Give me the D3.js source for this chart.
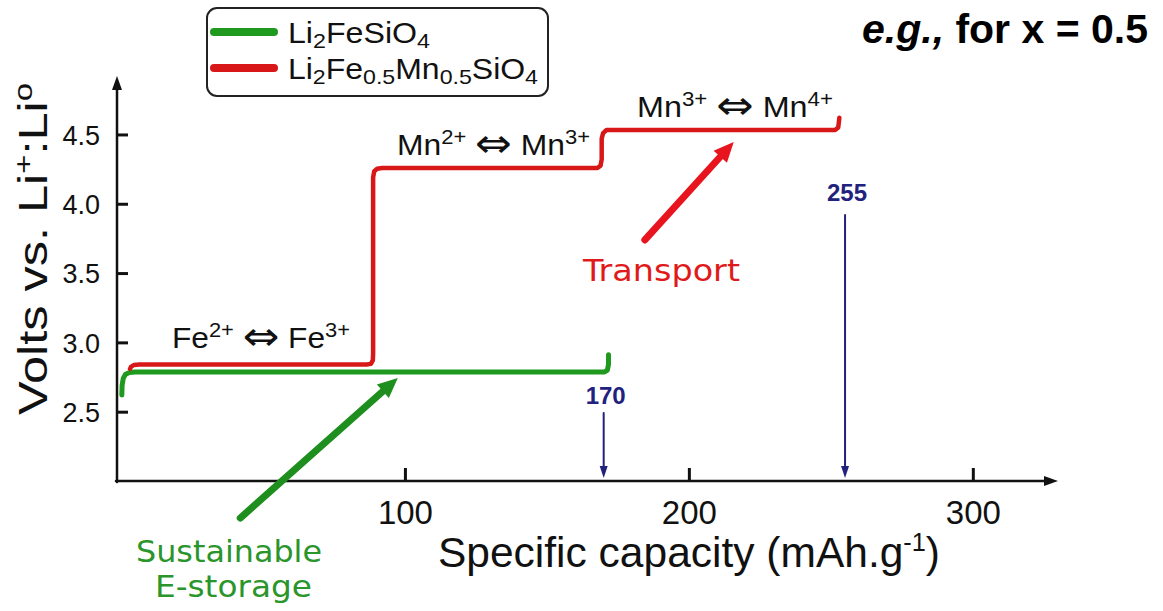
<!DOCTYPE html>
<html><head><meta charset="utf-8">
<script src="https://cdn.jsdelivr.net/npm/d3@7"></script>
<style>
html,body{margin:0;padding:0;background:#fff;}
svg{display:block;font-family:"Liberation Sans",Arial,Helvetica,sans-serif;}
</style>
</head><body>
<svg id="chart" width="1163" height="611"></svg>
<script>
// Galvanostatic profiles: capacity (mAh/g) vs potential (V vs Li+/Li)
const seriesNames = ["Li2FeSiO4", "Li2Fe0.5Mn0.5SiO4"];
const seriesColors = ["#1f9a1f", "#d81818"];

const feCapacity = [0.3, 0.4, 0.8, 1.6, 3.0, 5.0, 170.3, 171.3, 171.7, 171.7];
const feVoltage  = [2.62, 2.69, 2.74, 2.77, 2.783, 2.786, 2.786, 2.80, 2.84, 2.91];

const fmCapacity = [3.2, 3.6, 4.5, 6.5, 86.5, 88.0, 88.7, 88.8, 88.8, 89.2, 90.2, 92.0,
                    167.8, 168.9, 169.3, 169.3, 169.8, 171.0, 251.5, 252.6, 253.0];
const fmVoltage  = [2.81, 2.825, 2.836, 2.84, 2.84, 2.845, 2.87, 2.92, 4.19, 4.235, 4.252, 4.258,
                    4.258, 4.275, 4.32, 4.47, 4.51, 4.532, 4.532, 4.55, 4.62];

const xTicks = [100, 200, 300];
const yTicks = [2.5, 3.0, 3.5, 4.0, 4.5];
const capacityMarks = [170, 255];

const svg = d3.select("#chart");

const x = d3.scaleLinear().domain([-1.4, 330]).range([117, 1058]);
const y = d3.scaleLinear().domain([2.0, 4.9]).range([481, 79]);

// filled-head arrow helper
function arrow(g, x1, y1, x2, y2, color, w, hl, hw) {
  const dx = x2 - x1, dy = y2 - y1, L = Math.hypot(dx, dy);
  const ux = dx / L, uy = dy / L;
  const bx = x2 - ux * hl, by = y2 - uy * hl;
  g.append("line").attr("x1", x1).attr("y1", y1).attr("x2", bx + ux * 1).attr("y2", by + uy * 1)
    .attr("stroke", color).attr("stroke-width", w).attr("stroke-linecap", "round");
  g.append("path")
    .attr("d", `M${x2},${y2}L${bx - uy * hw / 2},${by + ux * hw / 2}L${bx + uy * hw / 2},${by - ux * hw / 2}Z`)
    .attr("fill", color);
}

// axes
const xAxis = d3.axisBottom(x).tickValues(xTicks).tickSizeInner(-13).tickSizeOuter(0).tickPadding(20);
const yAxis = d3.axisLeft(y).tickValues(yTicks).tickFormat(d3.format(".1f")).tickSizeInner(-11).tickSizeOuter(0).tickPadding(17);

const gx = svg.append("g").attr("transform", `translate(0,${y(2.0)})`).call(xAxis);
const gy = svg.append("g").attr("transform", `translate(${x.range()[0]},0)`).call(yAxis);
[gx, gy].forEach(g => {
  g.select(".domain").remove();
  g.selectAll(".tick line").attr("stroke", "#111").attr("stroke-width", 3);
  g.selectAll(".tick text").attr("fill", "#111").attr("font-family", "Liberation Sans, Arial, sans-serif");
});
gx.selectAll(".tick text").attr("font-size", 33);
gy.selectAll(".tick text").attr("font-size", 27).attr("dy", "0.36em");

const axes = svg.append("g");
arrow(axes, x.range()[0], y(2.0) + 1, x.range()[0], 76, "#111", 2.5, 14, 10);
arrow(axes, x.range()[0] - 1, y(2.0), x.range()[1], y(2.0), "#111", 2.5, 14, 10);

// axis titles
svg.append("text")
  .attr("x", 438).attr("y", 567).attr("font-size", 42).attr("fill", "#111")
  .attr("textLength", 502).attr("lengthAdjust", "spacingAndGlyphs")
  .call(t => {
    t.append("tspan").text("Specific capacity (mAh.g");
    t.append("tspan").attr("font-size", 25).attr("dy", -16).text("-1");
    t.append("tspan").attr("dy", 16).text(")");
  });

svg.append("g").attr("transform", "translate(47,249) rotate(-90)")
  .append("text").attr("x", -166).attr("y", 0).attr("font-size", 40).attr("fill", "#111")
  .attr("textLength", 332).attr("lengthAdjust", "spacingAndGlyphs")
  .call(t => {
    t.append("tspan").text("Volts vs. Li");
    t.append("tspan").attr("font-size", 26).attr("dy", -15).text("+");
    t.append("tspan").attr("dy", 15).text(":Li");
    t.append("tspan").attr("font-size", 26).attr("dy", -15).text("o");
  });

// curves
const line = d3.line().x(d => x(d[0])).y(d => y(d[1]));
const curves = [
  { cap: feCapacity, volt: feVoltage, color: seriesColors[0], w: 5 },
  { cap: fmCapacity, volt: fmVoltage, color: seriesColors[1], w: 4.5 }
];
svg.append("g").selectAll("path").data(curves).join("path")
  .attr("d", c => line(c.cap.map((v, i) => [v, c.volt[i]])))
  .attr("fill", "none").attr("stroke", c => c.color).attr("stroke-width", c => c.w)
  .attr("stroke-linejoin", "round").attr("stroke-linecap", "round");

// redox labels
function ionLabel(px, py, a, supA, b, supB, width) {
  svg.append("text").attr("x", px).attr("y", py).attr("font-size", 29).attr("fill", "#111")
    .attr("textLength", width).attr("lengthAdjust", "spacingAndGlyphs")
    .call(t => {
      t.append("tspan").text(a);
      t.append("tspan").attr("font-size", 20).attr("dy", -11).text(supA);
      t.append("tspan").attr("dy", 11).text(" ");
      t.append("tspan").attr("font-family", "DejaVu Sans, sans-serif").attr("font-size", 40)
        .attr("dy", 2).text("\u21D4");
      t.append("tspan").attr("dy", -2).text(" " + b);
      t.append("tspan").attr("font-size", 20).attr("dy", -11).text(supB);
    });
}
ionLabel(172, 348, "Fe", "2+", "Fe", "3+", 178);
ionLabel(397, 155, "Mn", "2+", "Mn", "3+", 193);
ionLabel(637, 117, "Mn", "3+", "Mn", "4+", 196);

// capacity markers
const navy = "#22227e";
const markTop = [413, 215];
const labelBase = [404, 201];
capacityMarks.forEach((c, i) => {
  const g = svg.append("g");
  arrow(g, x(c), markTop[i], x(c), y(2.0) - 3, navy, 2, 12, 8);
  g.append("text").attr("x", x(c) + 2).attr("y", labelBase[i])
    .attr("text-anchor", "middle").attr("font-size", 24).attr("font-weight", "bold")
    .attr("fill", navy).text(c);
});

// annotation arrows and captions
const notes = svg.append("g");
arrow(notes, x(42), y(1.733), x(97.5), y(2.743), "#1e8f1e", 7, 20, 18);
arrow(notes, x(184.5), y(3.739), x(215.8), y(4.446), "#e8141e", 7, 20, 18);

const noteFont = "DejaVu Sans, sans-serif";
function note(px, py, w, color, s) {
  svg.append("text").attr("x", px).attr("y", py).attr("font-family", noteFont)
    .attr("font-size", 31).attr("fill", color)
    .attr("textLength", w).attr("lengthAdjust", "spacingAndGlyphs").text(s);
}
note(583, 281, 157, "#e01a1a", "Transport");
note(136, 562, 186, "#2a952a", "Sustainable");
note(155, 597, 157, "#2a952a", "E-storage");

// heading
svg.append("text").attr("x", 862).attr("y", 43).attr("font-size", 41).attr("font-weight", "bold")
  .attr("fill", "#000")
  .call(t => {
    t.append("tspan").attr("font-style", "italic").text("e.g.,");
    t.append("tspan").text(" for x = 0.5");
  });

// legend
const legend = svg.append("g");
legend.append("rect").attr("x", 207).attr("y", 8).attr("width", 341).attr("height", 88).attr("rx", 10)
  .attr("fill", "#fff").attr("stroke", "#222").attr("stroke-width", 2);
const legendRows = [
  [["Li", ""], ["2", "sub"], ["FeSiO", ""], ["4", "sub"]],
  [["Li", ""], ["2", "sub"], ["Fe", ""], ["0.5", "sub"], ["Mn", ""], ["0.5", "sub"], ["SiO", ""], ["4", "sub"]]
];
const legendWidths = [142, 250];
seriesNames.forEach((name, i) => {
  const ly = 32 + i * 36;
  legend.append("line").attr("x1", 214).attr("x2", 274).attr("y1", ly).attr("y2", ly)
    .attr("stroke", seriesColors[i]).attr("stroke-width", 8).attr("stroke-linecap", "round");
  const t = legend.append("text").attr("x", 288).attr("y", ly + 11).attr("font-size", 29)
    .attr("fill", "#111").attr("textLength", legendWidths[i]).attr("lengthAdjust", "spacingAndGlyphs");
  let down = false;
  legendRows[i].forEach(([s, kind]) => {
    const ts = t.append("tspan").text(s);
    if (kind === "sub" && !down) { ts.attr("font-size", 21).attr("dy", 5); down = true; }
    else if (kind === "" && down) { ts.attr("dy", -5); down = false; }
    else if (kind === "sub") ts.attr("font-size", 21);
  });
});
</script>
</body></html>
